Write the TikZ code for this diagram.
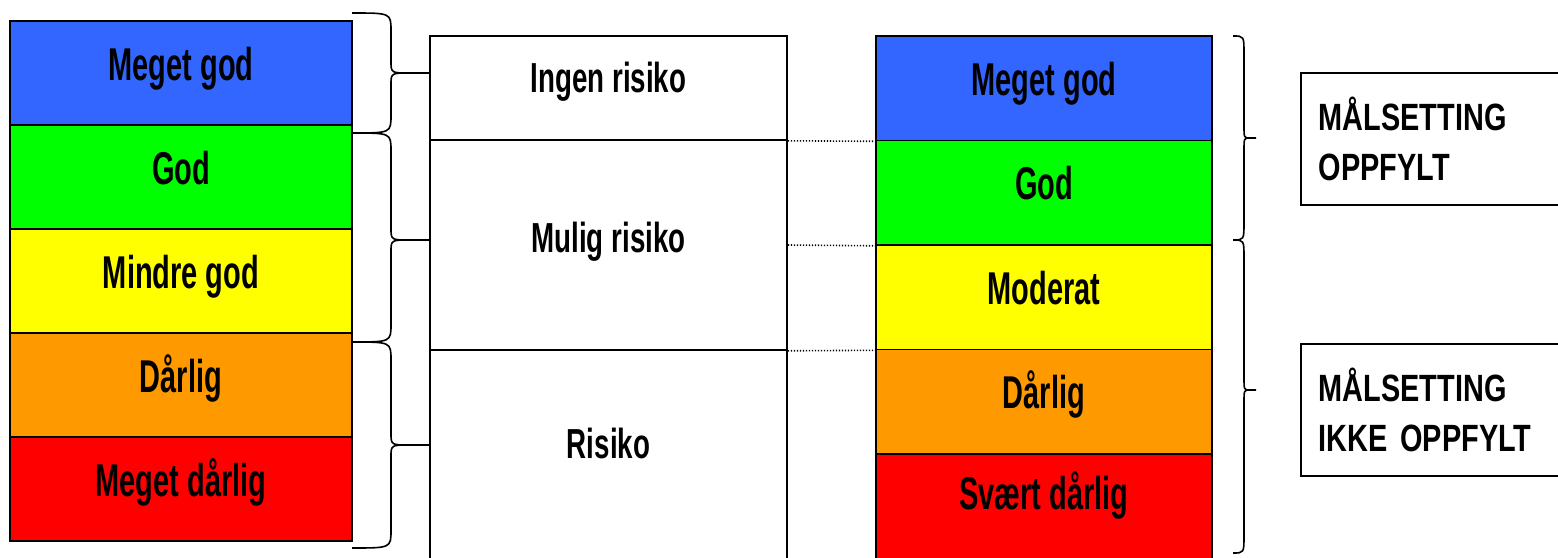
\documentclass[tikz,border=0pt]{standalone}
\usepackage{fontspec}
\newfontfamily\boxfont{Liberation Sans}[FakeStretch=0.63]
\newfontfamily\midfont{Liberation Sans}[FakeStretch=0.66]
\newfontfamily\goalfont{Liberation Sans}[FakeStretch=0.76]
\definecolor{cblue}{RGB}{51,102,255}
\definecolor{cgreen}{RGB}{0,255,0}
\definecolor{cyellow}{RGB}{255,255,0}
\definecolor{corange}{RGB}{255,153,0}
\definecolor{cred}{RGB}{255,0,0}
\newcommand\mybrace[7]{% x0 xv xcusp xtip y1 ym y2
  \draw[brc] (#1,#5) .. controls (#2,#5) and (#2,#5) .. (#2,#5+18)
    -- (#2,#6-12) .. controls (#2,#6) and (#2,#6) .. (#3,#6) -- (#4,#6)
    (#3,#6) .. controls (#2,#6) and (#2,#6) .. (#2,#6+12)
    -- (#2,#7-18) .. controls (#2,#7) and (#2,#7) .. (#1,#7);}
\tikzset{
  lvl/.style={draw=black, line width=1.6pt, inner sep=0pt, text height=32pt, text depth=18pt,
    font=\boxfont\bfseries\fontsize{46}{50}\selectfont},
  lcol/.style={lvl, minimum width=342pt, minimum height=104pt},
  rcol/.style={lvl, minimum width=336pt, minimum height=104.5pt},
  mid/.style={draw=black, line width=1.6pt, inner sep=0pt, minimum width=357pt, text height=30pt,
    font=\midfont\bfseries\fontsize{42}{46}\selectfont},
  goal/.style={draw=black, line width=1.6pt, anchor=west, minimum height=132pt, text width=250pt,
    align=left, inner xsep=18pt, font=\goalfont\bfseries\fontsize{38}{50}\selectfont},
  brc/.style={draw=black, line width=1.6pt},
  dots/.style={draw=black, line width=1.6pt, dash pattern=on 1.4pt off 1.6pt}
}
\begin{document}
\begin{tikzpicture}[x=1pt,y=-1pt]
\useasboundingbox (0,0) rectangle (1558,557);
\clip (0,0) rectangle (1558,557);
\fill[white] (0,0) rectangle (1558,557);
% left column
\node[lcol, fill=cblue]   (l1) at (181,73)  {Meget god};
\node[lcol, fill=cgreen]  (l2) at (181,177) {God};
\node[lcol, fill=cyellow] (l3) at (181,281) {Mindre god};
\node[lcol, fill=corange] (l4) at (181,385) {Dårlig};
\node[lcol, fill=cred]    (l5) at (181,489) {Meget dårlig};
% middle column
\node[mid, minimum height=104pt, text depth=22pt] (m1) at (608.5,88)  {Ingen risiko};
\node[mid, minimum height=210pt, text depth=16pt] (m2) at (608.5,245) {Mulig risiko};
\node[mid, minimum height=212pt, text depth=26pt] (m3) at (608.5,456) {Risiko};
% right column
\node[rcol, fill=cblue]   (r1) at (1044,88.25)  {Meget god};
\node[rcol, fill=cgreen]  (r2) at (1044,192.75) {God};
\node[rcol, fill=cyellow] (r3) at (1044,297.25) {Moderat};
\node[rcol, fill=corange] (r4) at (1044,401.75) {Dårlig};
\node[rcol, fill=cred, minimum height=108pt, text depth=30pt] (r5) at (1044,508) {Svært dårlig};
% dotted links
\draw[dots] (m1.south east) -- (r1.south west);
\draw[dots] (m2.east) -- (r2.south west);
\draw[dots] (m2.south east) -- (r3.south west);
% goal boxes
\node[goal] (g1) at (1300,139) {MÅLSETTING\\OPPFYLT};
\node[goal] (g2) at (1300,410) {MÅLSETTING\\IKKE OPPFYLT};
% braces left
\mybrace{352}{391}{410}{430}{13}{73}{133}
\mybrace{352}{391}{410}{430}{133}{240}{342}
\mybrace{352}{391}{410}{430}{342}{445}{548}
% braces right
\mybrace{1233}{1244}{1250}{1256}{36}{138}{240}
\mybrace{1233}{1244}{1250}{1256}{240}{390}{553}
\end{tikzpicture}
\end{document}
